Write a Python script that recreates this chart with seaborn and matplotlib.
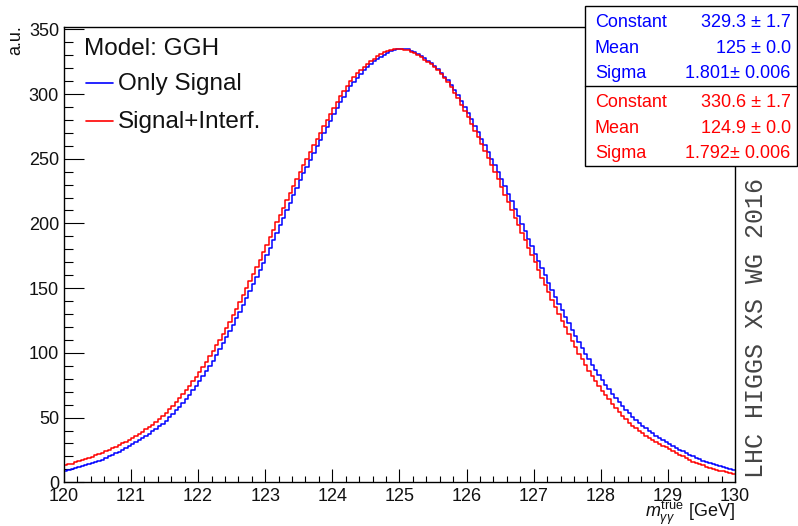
import numpy as np
import pandas as pd
import matplotlib
matplotlib.use("Agg")
import matplotlib.pyplot as plt
import seaborn as sns
from matplotlib.lines import Line2D
from matplotlib.patches import Rectangle
from matplotlib.ticker import MultipleLocator

# ---------------- data ----------------
mass_range = (120.0, 130.0)
n_bins = 200

only_signal = [
    9.0, 9.6, 10.4, 11.0, 11.7, 12.5, 13.2, 14.0, 14.8, 15.6,
    16.6, 17.6, 18.8, 20.0, 21.2, 22.4, 23.7, 25.1, 26.5, 27.9,
    29.3, 30.8, 32.4, 34.0, 35.6, 37.4, 39.3, 41.3, 43.2, 45.4,
    47.7, 50.1, 52.8, 55.6, 58.3, 61.3, 64.5, 67.7, 71.0, 74.4,
    78.0, 81.8, 85.8, 89.8, 93.8, 98.2, 102.8, 107.4, 112.1, 116.9,
    121.7, 126.7, 131.9, 137.1, 142.2, 147.6, 153.0, 158.6, 164.2, 169.8,
    175.5, 181.3, 187.0, 192.8, 198.6, 204.4, 210.2, 216.0, 221.9, 227.6,
    233.2, 238.6, 243.9, 249.1, 254.3, 259.5, 264.5, 269.5, 274.5, 279.5,
    284.4, 289.1, 293.6, 298.0, 302.1, 305.9, 309.4, 312.6, 315.6, 318.4,
    320.8, 323.2, 325.3, 327.3, 328.9, 330.5, 331.9, 333.1, 334.0, 334.6,
    334.8, 334.8, 334.4, 333.6, 332.5, 331.1, 329.3, 327.5, 325.6, 323.6,
    321.8, 319.4, 316.4, 313.4, 310.5, 307.1, 303.2, 299.0, 294.5, 289.9,
    285.3, 280.5, 275.5, 270.5, 265.5, 260.5, 255.3, 250.1, 245.0, 239.7,
    234.3, 228.7, 223.0, 217.2, 211.4, 205.6, 199.8, 194.0, 188.2, 182.4,
    176.6, 171.0, 165.4, 159.8, 154.1, 148.7, 143.3, 138.1, 132.9, 127.8,
    122.8, 117.9, 113.1, 108.3, 103.5, 99.1, 94.9, 90.7, 86.6, 82.6,
    78.7, 75.1, 71.8, 68.4, 65.1, 61.9, 59.0, 56.2, 53.3, 50.7,
    48.1, 45.7, 43.7, 41.7, 39.6, 37.8, 36.0, 34.4, 32.7, 31.1,
    29.6, 28.2, 26.7, 25.3, 24.0, 22.6, 21.4, 20.2, 19.0, 17.8,
    16.8, 15.8, 15.0, 14.2, 13.2, 12.4, 11.6, 10.8, 10.1, 9.3,
]

signal_interf = [
    13.2, 13.8, 14.5, 15.3, 16.1, 16.9, 17.8, 18.8, 19.9, 20.9,
    21.8, 22.8, 23.8, 25.0, 26.2, 27.4, 28.6, 30.0, 31.4, 32.8,
    34.2, 35.8, 37.4, 39.0, 40.8, 42.6, 44.5, 46.5, 48.8, 51.2,
    53.7, 56.3, 59.0, 61.8, 64.9, 67.9, 71.0, 74.4, 78.1, 81.7,
    85.5, 89.3, 93.2, 97.2, 101.5, 105.9, 110.3, 114.9, 119.4, 124.2,
    128.9, 133.9, 139.2, 144.4, 149.8, 155.2, 160.8, 166.4, 172.1, 177.9,
    183.6, 189.4, 195.2, 200.8, 206.2, 211.8, 217.8, 223.4, 228.7, 234.1,
    239.6, 245.0, 250.1, 255.3, 260.5, 265.5, 270.1, 274.9, 279.9, 284.7,
    289.4, 294.0, 298.5, 302.7, 306.5, 309.9, 313.1, 316.1, 318.8, 321.2,
    323.4, 325.4, 327.2, 329.0, 330.7, 332.1, 333.2, 334.0, 334.5, 334.7,
    334.7, 334.3, 333.7, 332.7, 331.5, 330.1, 328.4, 326.6, 324.8, 322.8,
    320.9, 318.5, 315.6, 312.4, 309.2, 305.4, 301.1, 296.7, 291.8, 287.0,
    282.0, 276.8, 271.6, 266.4, 261.1, 255.7, 250.2, 244.8, 239.7, 234.1,
    228.1, 222.3, 216.7, 210.7, 204.5, 198.5, 192.8, 187.0, 181.3, 175.6,
    170.0, 164.2, 158.2, 152.4, 146.7, 141.1, 135.6, 130.2, 125.0, 119.6,
    114.3, 109.1, 104.2, 99.4, 95.0, 90.6, 86.3, 82.1, 78.1, 74.3,
    70.8, 67.4, 64.0, 60.6, 57.4, 54.4, 51.6, 48.8, 46.0, 43.6,
    41.6, 39.6, 37.8, 36.0, 34.4, 32.8, 31.4, 29.8, 28.3, 26.9,
    25.5, 24.1, 22.8, 21.4, 20.1, 18.7, 17.2, 16.0, 15.0, 14.0,
    13.1, 12.1, 11.3, 10.5, 9.8, 9.0, 8.4, 7.6, 7.0, 6.2,
]

series_labels = ["Only Signal", "Signal+Interf."]
legend_title = "Model: GGH"
stats_blue = [("Constant", "329.3 \u00b1 1.7"), ("Mean", "125 \u00b1 0.0"),
              ("Sigma", "1.801\u00b1 0.006")]
stats_red = [("Constant", "330.6 \u00b1 1.7"), ("Mean", "124.9 \u00b1 0.0"),
             ("Sigma", "1.792\u00b1 0.006")]
watermark = "LHC HIGGS XS WG 2016"
x_ticks = [120, 121, 122, 123, 124, 125, 126, 127, 128, 129, 130]
y_ticks = [0, 50, 100, 150, 200, 250, 300, 350]

BLUE = "#0000ff"
RED = "#ff0000"

# ---------------- style ----------------
sns.set_theme(style="white")
plt.rcParams["font.family"] = ["Liberation Sans", "DejaVu Sans"]
plt.rcParams["mathtext.fontset"] = "custom"
plt.rcParams["mathtext.rm"] = "Liberation Sans"
plt.rcParams["mathtext.it"] = "Liberation Sans:italic"

W, H = 798, 526
fig = plt.figure(figsize=(W / 100, H / 100), dpi=100)
fig.patch.set_facecolor("white")


def fx(x):
    return x / W


def fy(y):
    return 1 - y / H


ax_left, ax_right, ax_top, ax_bottom = 63.9, 735.0, 26.7, 482.3
ax = fig.add_axes([fx(ax_left), fy(ax_bottom), fx(ax_right) - fx(ax_left),
                   fy(ax_top) - fy(ax_bottom)])
ax.set_facecolor("white")

bin_width = (mass_range[1] - mass_range[0]) / n_bins
centers = mass_range[0] + bin_width * (np.arange(n_bins) + 0.5)
df = pd.DataFrame({"m": np.concatenate([centers, centers]),
                   "w": np.concatenate([only_signal, signal_interf]),
                   "model": [series_labels[0]] * n_bins + [series_labels[1]] * n_bins})

for label, col in [(series_labels[0], BLUE), (series_labels[1], RED)]:
    sns.histplot(data=df[df.model == label], x="m", weights="w",
                 binwidth=bin_width, binrange=mass_range,
                 element="step", fill=False, color=col, linewidth=1.1, ax=ax)

ax.set_xlim(*mass_range)
ax.set_ylim(0, 352)
ax.set_xlabel("")
ax.set_ylabel("")
ax.set_xticks(x_ticks)
ax.set_yticks(y_ticks)
ax.xaxis.set_minor_locator(MultipleLocator(0.2))
ax.yaxis.set_minor_locator(MultipleLocator(10))
for s in ax.spines.values():
    s.set_color("black")
    s.set_linewidth(1.0)
ax.tick_params(axis="both", which="both", direction="in", color="black",
               width=0.8, labelsize=13, labelcolor="#111111",
               bottom=True, left=True, top=False, right=False)
ax.tick_params(axis="y", which="major", length=14.4, pad=3.5)
ax.tick_params(axis="y", which="minor", length=6.8)
ax.tick_params(axis="x", which="major", length=9.4, pad=4)
ax.tick_params(axis="x", which="minor", length=4.3)

# axis titles
fig.text(fx(16), fy(25), "a.u.", rotation=90, ha="center", va="top", fontsize=13,
         color="#111111")
fig.text(fx(735), fy(516.5), r"$m_{\gamma\gamma}^{\mathrm{true}}$ [GeV]", ha="right",
         va="baseline", fontsize=13, color="#111111")

# legend
fig.text(fx(84), fy(55), legend_title, fontsize=17.5, va="baseline", color="#111111")
for label, col, ly, tb in [(series_labels[0], BLUE, 83, 90.5),
                           (series_labels[1], RED, 121, 128.3)]:
    fig.add_artist(Line2D([fx(86), fx(113)], [fy(ly), fy(ly)], color=col, lw=1.2,
                          transform=fig.transFigure))
    fig.text(fx(118), fy(tb), label, fontsize=17.5, va="baseline", color="#111111")

# stats boxes
box_l, box_r = 584.7, 797.3
fig.add_artist(Rectangle((fx(box_l), fy(165.7)), fx(box_r) - fx(box_l),
                         fy(6.0) - fy(165.7), transform=fig.transFigure,
                         facecolor="white", edgecolor="black", lw=1.0, zorder=5))
fig.add_artist(Line2D([fx(box_l), fx(box_r)], [fy(85.7), fy(85.7)], color="black",
                      lw=1.0, transform=fig.transFigure, zorder=6))
for rows, col, bases in [(stats_blue, BLUE, [27.3, 53.3, 78.3]),
                         (stats_red, RED, [107.3, 133.3, 158.3])]:
    for (name, val), b in zip(rows, bases):
        fig.text(fx(595), fy(b), name, color=col, fontsize=13, va="baseline", zorder=7)
        fig.text(fx(790.7), fy(b), val, color=col, fontsize=13, va="baseline",
                 ha="right", zorder=7)

# watermark
fig.text(fx(755.8), fy(478), watermark, rotation=90, ha="center", va="bottom",
         fontsize=18, family="Liberation Mono", color="#444444")

fig.savefig("out.png", dpi=100, facecolor="white")
